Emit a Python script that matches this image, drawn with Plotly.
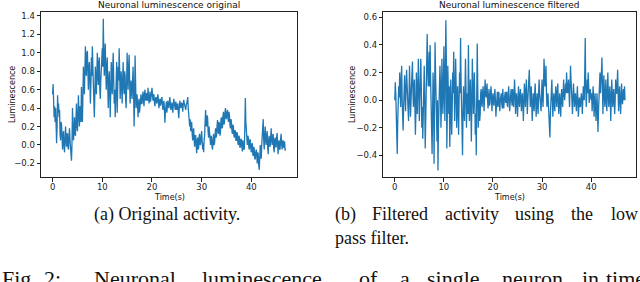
import numpy as np
import plotly.graph_objects as go

# ---- data (0.1 s sampling) ----
time_start, time_end = 0.0, 46.9

original = [
    0.55, 0.66, 0.48, 0.30, 0.42, 0.25, 0.40, 0.10, 0.02, 0.20,
    0.54, 0.35, 0.45, 0.30, 0.38, 0.12, 0.05, 0.25, 0.22, 0.08,
    -0.05, 0.10, 0.15, -0.02, -0.08, 0.05, 0.20, 0.08, -0.02, 0.12,
    0.12, -0.03, -0.05, 0.10, 0.18, 0.05, 0.00, -0.10, -0.17, 0.02,
    0.40, 0.20, 0.05, 0.15, 0.30, 0.12, 0.10, 0.28, 0.45, 0.20,
    0.15, 0.35, 0.54, 0.30, 0.20, 0.42, 0.40, 0.25, 0.63, 0.35,
    0.25, 0.55, 0.85, 0.70, 0.55, 0.90, 1.07, 0.80, 0.75, 1.00,
    1.02, 0.80, 0.60, 0.85, 0.90, 0.70, 0.45, 0.65, 0.95, 0.75,
    1.07, 0.85, 0.70, 0.50, 0.30, 0.55, 0.85, 0.70, 0.55, 0.80,
    1.00, 0.75, 0.65, 0.90, 0.95, 0.60, 0.50, 0.70, 0.80, 0.95,
    1.05, 0.85, 1.37, 1.00, 0.75, 0.95, 1.10, 0.80, 0.60, 0.85,
    0.95, 0.65, 0.40, 0.70, 0.80, 0.55, 0.30, 0.60, 0.90, 0.70,
    0.55, 0.85, 1.00, 0.70, 0.45, 0.60, 0.30, 0.50, 0.75, 0.90,
    0.35, 0.60, 0.85, 0.70, 1.05, 0.80, 0.50, 0.65, 0.80, 0.60,
    0.45, 0.70, 0.90, 0.65, 0.55, 0.80, 0.75, 0.50, 0.40, 0.65,
    1.00, 0.75, 0.60, 0.85, 0.98, 0.70, 0.45, 0.60, 0.70, 0.55,
    0.50, 0.70, 0.85, 0.60, 0.20, 0.45, 0.97, 0.70, 0.40, 0.50,
    0.55, 0.40, 0.30, 0.45, 0.50, 0.35, 0.40, 0.52, 0.55, 0.45,
    0.45, 0.52, 0.58, 0.48, 0.42, 0.55, 0.60, 0.50, 0.48, 0.56,
    0.55, 0.48, 0.62, 0.52, 0.45, 0.50, 0.58, 0.47, 0.50, 0.55,
    0.62, 0.55, 0.48, 0.53, 0.55, 0.46, 0.42, 0.50, 0.52, 0.47,
    0.45, 0.52, 0.55, 0.48, 0.40, 0.46, 0.50, 0.43, 0.44, 0.50,
    0.52, 0.45, 0.38, 0.44, 0.48, 0.40, 0.24, 0.35, 0.42, 0.47,
    0.35, 0.42, 0.48, 0.44, 0.40, 0.46, 0.52, 0.45, 0.38, 0.42,
    0.46, 0.40, 0.35, 0.44, 0.50, 0.45, 0.42, 0.38, 0.47, 0.43,
    0.38, 0.44, 0.45, 0.36, 0.29, 0.40, 0.48, 0.45, 0.40, 0.44,
    0.46, 0.42, 0.36, 0.44, 0.49, 0.45, 0.42, 0.40, 0.38, 0.44,
    0.45, 0.48, 0.52, 0.40, 0.30, 0.35, 0.20, 0.28, 0.15, 0.22,
    0.25, 0.12, 0.05, 0.15, 0.18, 0.05, -0.02, 0.10, 0.10, 0.00,
    -0.09, 0.05, 0.08, -0.05, -0.03, 0.10, 0.12, 0.00, 0.02, 0.08,
    0.15, 0.05, -0.05, 0.02, -0.08, 0.05, 0.10, 0.25, 0.38, 0.22,
    0.20, 0.32, 0.30, 0.15, 0.08, 0.20, 0.15, 0.05, 0.00, 0.10,
    0.08, -0.02, -0.05, 0.05, 0.12, 0.00, 0.02, 0.10, 0.18, 0.08,
    0.10, 0.20, 0.27, 0.15, 0.12, 0.25, 0.22, 0.10, 0.15, 0.28,
    0.30, 0.18, 0.20, 0.32, 0.36, 0.22, 0.25, 0.35, 0.40, 0.30,
    0.28, 0.35, 0.38, 0.30, 0.25, 0.36, 0.32, 0.22, 0.18, 0.28,
    0.25, 0.15, 0.12, 0.22, 0.20, 0.10, 0.08, 0.16, 0.15, 0.05,
    0.05, 0.14, 0.12, 0.02, 0.00, 0.10, 0.08, -0.03, -0.02, 0.06,
    0.06, -0.02, -0.07, 0.05, 0.02, -0.05, -0.04, 0.20, 0.51, 0.25,
    0.10, 0.02, 0.00, 0.10, 0.08, -0.02, -0.05, 0.06, 0.05, -0.03,
    -0.08, 0.00, 0.02, -0.10, -0.12, -0.02, -0.05, -0.15, -0.15, -0.08,
    -0.05, -0.12, -0.20, -0.08, -0.10, -0.22, -0.27, -0.15, 0.00, -0.10,
    -0.15, 0.00, 0.12, 0.20, 0.28, 0.05, -0.05, 0.10, 0.20, 0.05,
    0.00, 0.10, 0.15, -0.02, -0.10, 0.05, 0.10, 0.00, -0.02, 0.08,
    0.18, 0.05, 0.00, 0.10, 0.12, -0.03, -0.08, 0.05, 0.08, -0.02,
    -0.02, 0.08, 0.13, 0.00, -0.10, 0.02, 0.05, -0.05, -0.04, 0.06,
    0.12, 0.02, -0.05, 0.03, 0.05, -0.03, -0.02, 0.04, -0.06, -0.04,
]

filtered = [
    0.00, 0.13, 0.05, -0.20, -0.10, -0.39, -0.15, -0.05, 0.10, 0.02,
    0.20, 0.05, -0.05, 0.15, 0.25, 0.00, -0.10, -0.22, -0.05, 0.10,
    0.18, 0.02, -0.08, 0.10, 0.22, 0.12, 0.05, -0.05, -0.15, 0.00,
    0.25, 0.08, -0.12, -0.02, 0.10, 0.20, 0.28, 0.05, -0.05, 0.10,
    0.15, -0.05, -0.25, -0.10, 0.20, 0.05, -0.10, 0.12, 0.30, 0.10,
    -0.15, 0.00, 0.15, 0.30, 0.10, -0.20, -0.05, -0.28, 0.05, 0.20,
    0.25, 0.00, -0.35, -0.15, 0.15, 0.30, 0.48, 0.25, 0.10, 0.20,
    0.35, 0.10, 0.40, 0.15, -0.15, -0.30, -0.39, -0.10, 0.20, 0.05,
    -0.46, -0.10, 0.42, 0.20, 0.05, -0.15, -0.30, 0.00, -0.51, -0.20,
    0.10, -0.05, 0.25, 0.10, -0.20, -0.05, 0.30, 0.15, -0.10, 0.05,
    0.39, 0.10, -0.15, 0.20, 0.58, 0.30, -0.35, -0.10, 0.25, 0.05,
    -0.10, 0.10, -0.34, -0.15, 0.15, 0.00, -0.25, -0.05, 0.20, 0.05,
    0.35, 0.10, -0.15, 0.05, 0.30, 0.10, -0.20, -0.05, 0.10, -0.10,
    -0.25, 0.00, 0.20, 0.05, 0.45, 0.15, -0.05, -0.20, -0.40, -0.10,
    0.10, -0.05, -0.15, 0.05, 0.30, 0.10, -0.20, 0.00, 0.05, -0.10,
    0.40, 0.10, -0.15, 0.00, 0.15, -0.05, -0.30, 0.00, 0.30, 0.10,
    -0.10, 0.05, 0.20, 0.00, -0.25, -0.10, -0.40, 0.05, 0.41, 0.10,
    -0.20, -0.05, 0.00, -0.15, -0.10, 0.05, 0.08, -0.02, -0.05, 0.06,
    0.10, 0.00, -0.08, 0.05, 0.15, 0.05, 0.02, 0.08, 0.12, 0.00,
    -0.06, 0.02, 0.08, -0.04, -0.02, 0.05, 0.10, 0.02, -0.08, 0.00,
    0.05, -0.02, -0.04, 0.03, 0.08, 0.00, -0.12, -0.05, 0.03, 0.06,
    -0.05, 0.02, 0.06, -0.03, -0.08, 0.00, 0.02, 0.05, -0.03, -0.06,
    0.08, 0.02, -0.06, 0.00, 0.04, 0.06, -0.02, 0.02, 0.06, -0.03,
    -0.05, 0.04, 0.10, 0.02, -0.08, -0.02, 0.05, 0.08, 0.00, -0.04,
    0.08, 0.02, -0.05, 0.05, 0.15, 0.05, -0.10, -0.02, 0.05, 0.00,
    -0.12, -0.02, 0.10, 0.03, -0.05, 0.02, 0.08, 0.00, -0.08, 0.02,
    0.05, -0.05, -0.15, 0.00, 0.12, 0.05, -0.05, 0.05, 0.15, 0.02,
    -0.10, 0.00, 0.05, 0.12, 0.22, 0.08, -0.05, 0.02, 0.10, -0.02,
    -0.15, -0.05, 0.05, -0.02, -0.08, 0.05, 0.12, 0.00, -0.12, -0.03,
    0.05, -0.02, -0.10, 0.05, 0.15, 0.05, 0.00, -0.05, -0.08, 0.05,
    0.15, 0.02, -0.05, 0.10, 0.30, 0.20, 0.10, 0.18, 0.25, 0.05,
    -0.05, 0.00, 0.05, -0.05, -0.10, -0.20, -0.27, -0.10, 0.00, 0.05,
    0.15, 0.00, -0.12, -0.03, 0.05, 0.00, -0.08, 0.02, 0.10, 0.03,
    -0.05, 0.05, 0.12, 0.00, -0.10, -0.02, 0.05, -0.03, -0.12, 0.00,
    0.08, 0.00, -0.05, 0.05, 0.15, 0.05, 0.00, 0.05, 0.12, 0.05,
    0.20, 0.10, 0.05, 0.10, 0.15, 0.05, -0.05, 0.10, 0.25, 0.15,
    0.08, 0.00, -0.10, 0.02, 0.12, 0.05, -0.05, 0.00, 0.05, -0.02,
    -0.08, 0.02, 0.10, 0.00, -0.12, -0.05, 0.02, -0.02, -0.05, 0.00,
    0.05, 0.00, -0.10, 0.00, 0.10, 0.03, 0.00, 0.20, 0.45, 0.10,
    -0.05, 0.05, 0.15, 0.05, 0.20, 0.10, -0.02, 0.03, 0.08, 0.02,
    0.00, 0.05, -0.08, 0.00, 0.10, 0.02, -0.12, -0.03, 0.05, -0.05,
    -0.15, -0.05, 0.05, -0.10, -0.23, -0.08, 0.00, 0.10, 0.20, 0.05,
    0.10, 0.20, 0.31, 0.10, -0.10, 0.05, 0.18, 0.05, -0.05, 0.02,
    0.15, 0.00, -0.08, 0.05, 0.20, 0.05, -0.05, 0.02, 0.10, 0.00,
    -0.15, 0.00, 0.15, 0.05, -0.05, 0.02, 0.08, -0.02, -0.10, 0.00,
    0.15, 0.05, 0.05, 0.12, 0.22, 0.05, -0.08, 0.02, 0.10, 0.00,
    -0.10, 0.00, 0.12, 0.02, -0.03, 0.05, 0.08, 0.00, 0.10, 0.00,
]

x_ticks = [0, 10, 20, 30, 40]
y_ticks_orig = [-0.2, 0.0, 0.2, 0.4, 0.6, 0.8, 1.0, 1.2, 1.4]
y_ticks_filt = [-0.4, -0.2, 0.0, 0.2, 0.4, 0.6]

time = np.linspace(time_start, time_end, len(original))

W, H = 640, 282
BLUE = "#1f77b4"
SANS = "DejaVu Sans"
SERIF = "Liberation Serif"

fig = go.Figure()
fig.add_trace(go.Scatter(x=time, y=original, mode="lines",
                         line=dict(color=BLUE, width=1.3), xaxis="x", yaxis="y",
                         showlegend=False))
fig.add_trace(go.Scatter(x=time, y=filtered, mode="lines",
                         line=dict(color=BLUE, width=1.3), xaxis="x2", yaxis="y2",
                         showlegend=False))

def px_x(p):
    return p / W

def px_y(p):
    return 1 - p / H

ax_common = dict(showline=True, mirror=True, linecolor="#222", linewidth=0.9,
                 ticks="outside", ticklen=3.5, tickwidth=0.8, tickcolor="#222",
                 showgrid=False, zeroline=False,
                 tickfont=dict(family=SANS, size=8.5, color="#222"))

ydom = [px_y(177.3), px_y(12)]
fig.update_layout(
    width=W, height=H, margin=dict(l=0, r=0, t=0, b=0),
    paper_bgcolor="white", plot_bgcolor="white",
    xaxis=dict(domain=[px_x(41), px_x(296.7)], range=[-2.34, 49.14],
               tickvals=x_ticks, anchor="y", ticklabelstandoff=-2, **ax_common),
    yaxis=dict(domain=ydom, range=[-0.351, 1.443], tickvals=y_ticks_orig,
               tickformat=".1f", anchor="x", **ax_common),
    xaxis2=dict(domain=[px_x(383.3), px_x(636)], range=[-2.34, 49.14],
                tickvals=x_ticks, anchor="y2", ticklabelstandoff=-2, **ax_common),
    yaxis2=dict(domain=ydom, range=[-0.559, 0.639], tickvals=y_ticks_filt,
                tickformat=".1f", anchor="x2", **ax_common),
)

def ann(text, x, y, size, family, xanchor="center", angle=0, color="#111"):
    fig.add_annotation(text=text, x=px_x(x), y=px_y(y), xref="paper", yref="paper",
                       showarrow=False, xanchor=xanchor, yanchor="middle",
                       textangle=angle, font=dict(family=family, size=size, color=color))

# plot titles and axis labels
ann("Neuronal luminescence original", 169, 5.5, 9, SANS)
ann("Neuronal luminescence filtered", 509, 5.5, 9, SANS)
ann("Time(s)", 169, 197.5, 8, SANS)
ann("Time(s)", 509, 197.5, 8, SANS)
ann("Luminescence", 12, 95, 8, SANS, angle=-90)
ann("Luminescence", 352, 95, 8, SANS, angle=-90)

# sub-captions
ann("(a) Original activity.", 167, 214, 18, SERIF)
for word, xpos in [("(b)", 333), ("Filtered", 370), ("activity", 443),
                   ("using", 513), ("the", 569), ("low", 609)]:
    ann(word, xpos, 214, 18, SERIF, xanchor="left")
ann("pass filter.", 333, 238, 18, SERIF, xanchor="left")

# main caption (cut off at the bottom of the image)
for word, xpos in [("Fig.", 0), ("2:", 42), ("Neuronal", 92), ("luminescence", 200),
                   ("of", 357), ("a", 398), ("single", 425), ("neuron", 500),
                   ("in", 580), ("time", 604)]:
    ann(word, xpos, 278, 22, SERIF, xanchor="left")

fig.write_html("out.html", config={"displayModeBar": False},
               post_script="document.body.style.margin='0';document.body.style.overflow='hidden';")
